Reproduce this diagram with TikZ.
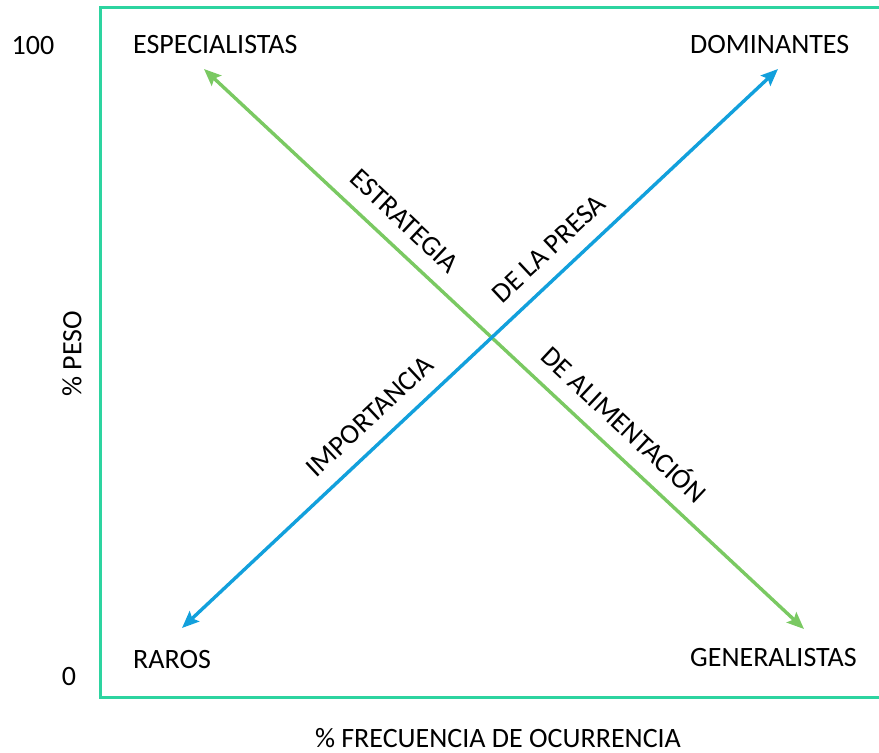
\documentclass[tikz,border=0pt]{standalone}
\usepackage{fontspec}
\setmainfont{Carlito}
\usetikzlibrary{arrows.meta}
\usetikzlibrary{calc}

\definecolor{boxgreen}{RGB}{45,212,160}
\definecolor{stratgreen}{RGB}{122,201,98}
\definecolor{presablue}{RGB}{18,160,220}

\tikzset{
  lbl/.style={font=\fontsize{28}{32}\selectfont, inner sep=0pt},
  axislbl/.style={font=\fontsize{28}{32}\selectfont, inner sep=0pt},
  diaglbl/.style={font=\fontsize{28}{32}\selectfont, sloped, above=15pt, inner sep=0pt},
  twoway/.style={line width=3.4pt, {Stealth[length=17pt,width=14pt,inset=3pt]}-{Stealth[length=17pt,width=14pt,inset=3pt]}}
}

\begin{document}
\begin{tikzpicture}[x=1pt, y=1pt]
    \useasboundingbox (0,0) rectangle (879,-753);
    % draw frame
    \draw[boxgreen, line width=3pt] (884,-7) -- (100,-7) -- (100,-697) -- (884,-697);

    % draw axis labels
    \node[axislbl] (top) at (33,-46) {100};
    \node[axislbl] (zero) at (69,-677) {0};
    \node[axislbl, rotate=90] (peso) at (72,-354) {\% PESO};
    \node[axislbl] (freq) at (498,-738) {\% FRECUENCIA DE OCURRENCIA};

    % draw corner nodes
    \node[lbl, anchor=west] (espec) at (133,-45) {ESPECIALISTAS};
    \node[lbl, anchor=west] (domin) at (690,-45) {DOMINANTES};
    \node[lbl, anchor=west] (raros) at (133,-660) {RAROS};
    \node[lbl, anchor=west] (gener) at (690,-658) {GENERALISTAS};

    % arrow ends
    \coordinate (gA) at (204,-69);
    \coordinate (gB) at (804,-629);
    \coordinate (bA) at (182,-628);
    \coordinate (bB) at (778,-69);

    % draw arrows
    \draw[twoway, stratgreen] (gA) -- (gB)
        node[diaglbl, black, pos=0.305] {ESTRATEGIA}
        node[diaglbl, black, pos=0.67] {DE ALIMENTACIÓN};
    \draw[twoway, presablue] (bA) -- (bB)
        node[diaglbl, black, pos=0.345] {IMPORTANCIA}
        node[diaglbl, black, pos=0.645] {DE LA PRESA};
  \end{tikzpicture}
\end{document}
